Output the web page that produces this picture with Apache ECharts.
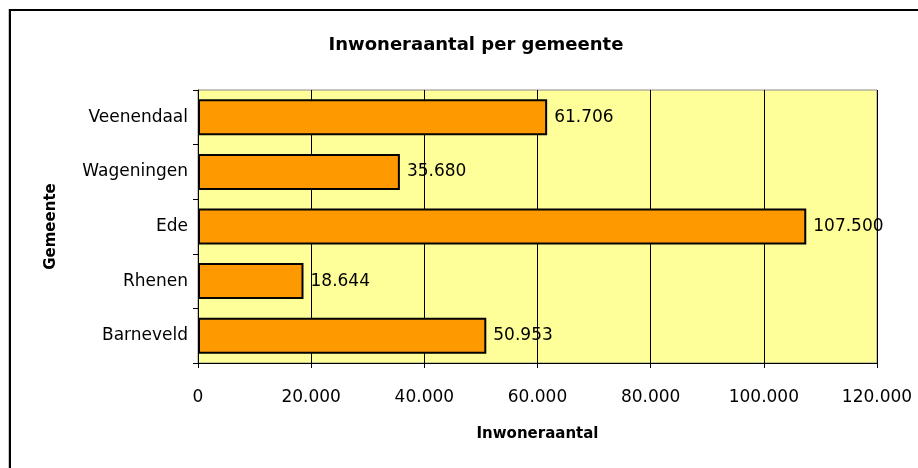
<!DOCTYPE html>
<html>
<head>
<meta charset="utf-8">
<script src="https://cdn.jsdelivr.net/npm/echarts@6/dist/echarts.min.js"></script>
<style>
  html, body { margin: 0; padding: 0; background: #ffffff; }
  #wrap { position: relative; width: 918px; height: 468px; overflow: hidden; }
  #chart { position: absolute; left: 0; top: 0; width: 918px; height: 468px; }
  /* chart frame: only the left and top edges fall inside the picture */
  #frame {
    position: absolute; left: 9px; top: 9px; width: 1000px; height: 600px;
    border-left: 2px solid #000; border-top: 2px solid #000;
    box-shadow: -1px 0 0 #c8c8c8; pointer-events: none;
  }
</style>
</head>
<body>
<div id="wrap">
  <div id="chart"></div>
  <div id="frame"></div>
</div>
<script>
// gemeenten, van boven naar beneden
const gemeenten = ['Veenendaal', 'Wageningen', 'Ede', 'Rhenen', 'Barneveld']
const inwoners = [61706, 35680, 107500, 18644, 50953]
const xTicks = [0, 20000, 40000, 60000, 80000, 100000, 120000]

const FONT = 'DejaVu Sans'
const fmt = (v) => String(v).replace(/\B(?=(\d{3})+(?!\d))/g, '.')

const chart = echarts.init(document.getElementById('chart'), null, { renderer: 'canvas' })

chart.setOption({
  animation: false,
  title: {
    text: 'Inwoneraantal per gemeente',
    left: 471,
    top: 31,
    textAlign: 'center',
    textStyle: { fontFamily: FONT, fontSize: 18, fontWeight: 'bold', color: '#000' },
  },
  grid: {
    left: 198,
    top: 90,
    width: 679,
    height: 273,
    show: true,
    backgroundColor: '#FFFF99',
    borderColor: '#8c8c8c',
    borderWidth: 1,
  },
  xAxis: {
    type: 'value',
    min: xTicks[0],
    max: xTicks[xTicks.length - 1],
    interval: xTicks[1] - xTicks[0],
    name: 'Inwoneraantal',
    nameLocation: 'middle',
    nameGap: 64,
    nameTextStyle: { fontFamily: FONT, fontSize: 15, fontWeight: 'bold', color: '#000' },
    axisLine: { show: true, lineStyle: { color: '#000', width: 1 } },
    axisTick: { show: true, length: 5, lineStyle: { color: '#000' } },
    axisLabel: {
      fontFamily: FONT, fontSize: 17, color: '#000', margin: 26,
      formatter: (v) => fmt(v),
    },
    splitLine: { show: true, lineStyle: { color: '#000', width: 1 } },
  },
  yAxis: {
    type: 'category',
    data: gemeenten,
    inverse: true,
    name: 'Gemeente',
    nameLocation: 'middle',
    nameGap: 139,
    nameRotate: 90,
    nameTextStyle: { fontFamily: FONT, fontSize: 15, fontWeight: 'bold', color: '#000' },
    axisLine: { show: true, lineStyle: { color: '#000', width: 1 } },
    axisTick: { show: true, length: 5, lineStyle: { color: '#000' } },
    axisLabel: { fontFamily: FONT, fontSize: 17, color: '#000', margin: 10 },
  },
  series: [
    {
      type: 'bar',
      data: inwoners,
      barCategoryGap: '34%',
      itemStyle: { color: '#FF9900', borderColor: '#000', borderWidth: 2 },
      label: {
        show: true,
        position: 'right',
        distance: 7,
        fontFamily: FONT,
        fontSize: 17,
        color: '#000',
        formatter: (p) => fmt(p.value),
      },
    },
  ],
})
</script>
</body>
</html>
